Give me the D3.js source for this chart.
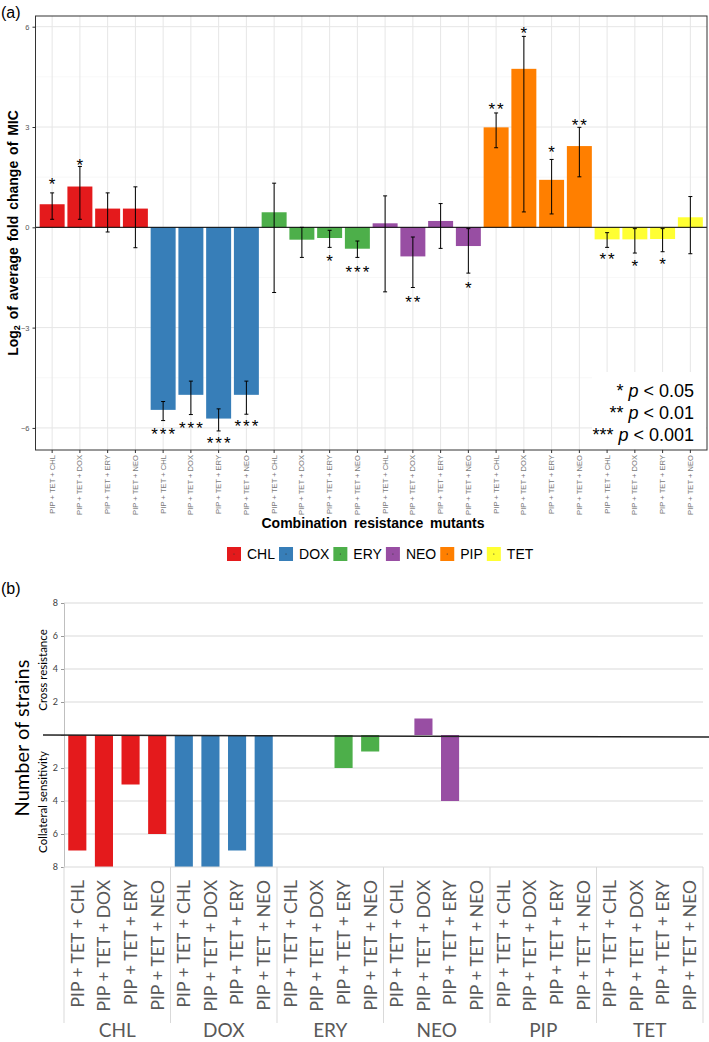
<!DOCTYPE html>
<html>
<head>
<meta charset="utf-8">
<script src="https://cdn.jsdelivr.net/npm/d3@7"></script>
<style>
  body { margin: 0; background: #fff; }
  svg { display: block; }
</style>
</head>
<body>
<script>
// Antibiotic groups and the four combination mutants per group
var groups = ["CHL", "DOX", "ERY", "NEO", "PIP", "TET"];
var combos = ["PIP + TET + CHL", "PIP + TET + DOX", "PIP + TET + ERY", "PIP + TET + NEO"];
var groupColors = ["#E41A1C", "#377EB8", "#4DAF4A", "#984EA3", "#FF7F00", "#FFFF33"];

// (a) log2 of average fold change of MIC, with error bar ends
var foldMean = [0.69, 1.22, 0.56, 0.56, -5.46, -5.01, -5.72, -5.01, 0.45, -0.37, -0.32, -0.64,
                0.12, -0.87, 0.19, -0.56, 2.99, 4.74, 1.42, 2.43, -0.36, -0.36, -0.35, 0.30];
var foldLow = [0.24, 0.24, -0.14, -0.61, -5.78, -5.60, -6.09, -5.59, -1.95, -0.90, -0.60, -0.90,
               -1.93, -1.80, -0.63, -1.37, 2.38, 0.46, 0.40, 1.51, -0.60, -0.77, -0.73, -0.79];
var foldHigh = [1.03, 1.82, 1.03, 1.21, -5.21, -4.60, -5.43, -4.60, 1.32, 0.00, -0.09, -0.41,
                0.94, -0.29, 0.71, -0.04, 3.42, 5.71, 2.03, 2.99, -0.16, -0.04, -0.04, 0.92];
var signif = ["*", "*", "", "", "***", "***", "***", "***", "", "", "*", "***",
              "", "**", "", "*", "**", "*", "*", "**", "**", "*", "*", ""];
var signifY = [1.41, 1.98, null, null, -6.06, -5.88, -6.34, -5.81, null, null, -0.88, -1.23,
               null, -2.12, null, -1.70, 3.66, 5.92, 2.38, 3.19, -0.83, -1.05, -0.98, null];
var yTicksTop = [-6, -3, 0, 3, 6];
var yMinorTop = [-4.5, -1.5, 1.5, 4.5];

// (b) number of strains: positive = cross resistance, negative = collateral sensitivity
var strainCounts = [-7, -8, -3, -6, -8, -8, -7, -8, 0, 0, -2, -1,
                    0, 1, -4, 0, 0, 0, 0, 0, 0, 0, 0, 0];
var yTicksBottom = [-8, -6, -4, -2, 0, 2, 4, 6, 8];

var rows = d3.range(24).map(function (i) {
  return {
    id: i,
    group: groups[Math.floor(i / 4)],
    color: groupColors[Math.floor(i / 4)],
    combo: combos[i % 4],
    mean: foldMean[i], low: foldLow[i], high: foldHigh[i],
    sig: signif[i], sigY: signifY[i],
    count: strainCounts[i]
  };
});

var svgWidth = 709;
var svgHeight = 1042;
var ggFont = "'Liberation Sans', Arial, Helvetica, sans-serif";
var xlFont = "Lato, 'Open Sans', sans-serif";

var svg = d3.select("body").append("svg")
  .attr("width", svgWidth)
  .attr("height", svgHeight)
  .style("background", "#fff");

// ---------------- panel (a) ----------------
var topPanel = { left: 35.5, right: 707, top: 16, bottom: 450 };

var xTop = d3.scaleBand()
  .domain(rows.map(d => d.id))
  .range([topPanel.left, topPanel.right])
  .paddingInner(0.1)
  .paddingOuter(0.15);

var yTop = d3.scaleLinear()
  .domain([-6.66, 6.32])
  .range([topPanel.bottom, topPanel.top]);

svg.append("text")
  .attr("x", 1).attr("y", 18)
  .style("font-family", ggFont).style("font-size", "16px")
  .text("(a)");

var gA = svg.append("g");

// grid
gA.selectAll(".minor").data(yMinorTop).enter().append("line")
  .attr("x1", topPanel.left).attr("x2", topPanel.right)
  .attr("y1", d => yTop(d)).attr("y2", d => yTop(d))
  .attr("stroke", "#f2f2f2").attr("stroke-width", 0.6);
gA.selectAll(".major").data(yTicksTop).enter().append("line")
  .attr("x1", topPanel.left).attr("x2", topPanel.right)
  .attr("y1", d => yTop(d)).attr("y2", d => yTop(d))
  .attr("stroke", "#e6e6e6").attr("stroke-width", 1);
gA.selectAll(".vgrid").data(rows).enter().append("line")
  .attr("x1", d => xTop(d.id) + xTop.bandwidth() / 2)
  .attr("x2", d => xTop(d.id) + xTop.bandwidth() / 2)
  .attr("y1", topPanel.top).attr("y2", topPanel.bottom)
  .attr("stroke", "#e6e6e6").attr("stroke-width", 1);

// bars
gA.selectAll(".bar").data(rows).enter().append("rect")
  .attr("x", d => xTop(d.id))
  .attr("width", xTop.bandwidth())
  .attr("y", d => yTop(Math.max(0, d.mean)))
  .attr("height", d => Math.abs(yTop(d.mean) - yTop(0)))
  .attr("fill", d => d.color);

// zero line
gA.append("line")
  .attr("x1", topPanel.left).attr("x2", topPanel.right)
  .attr("y1", yTop(0)).attr("y2", yTop(0))
  .attr("stroke", "#000").attr("stroke-width", 1);

// error bars
var eb = gA.selectAll(".err").data(rows).enter().append("g")
  .attr("transform", d => `translate(${xTop(d.id) + xTop.bandwidth() / 2},0)`);
eb.append("line").attr("y1", d => yTop(d.low)).attr("y2", d => yTop(d.high))
  .attr("stroke", "#000").attr("stroke-width", 1);
eb.append("line").attr("x1", -2).attr("x2", 2)
  .attr("y1", d => yTop(d.low)).attr("y2", d => yTop(d.low))
  .attr("stroke", "#000").attr("stroke-width", 1);
eb.append("line").attr("x1", -2).attr("x2", 2)
  .attr("y1", d => yTop(d.high)).attr("y2", d => yTop(d.high))
  .attr("stroke", "#000").attr("stroke-width", 1);

// significance stars
gA.selectAll(".sig").data(rows.filter(d => d.sig)).enter().append("text")
  .attr("x", d => xTop(d.id) + xTop.bandwidth() / 2 + 1)
  .attr("y", d => yTop(d.sigY) + 10)
  .attr("text-anchor", "middle")
  .style("font-family", ggFont).style("font-size", "17px")
  .style("letter-spacing", "2px")
  .text(d => d.sig);

// p-value key
var keyG = gA.append("g");
keyG.append("rect")
  .attr("x", 592).attr("y", 372).attr("width", 114).attr("height", 77)
  .attr("fill", "#fff");
var keyLines = [["*", "< 0.05"], ["**", "< 0.01"], ["***", "< 0.001"]];
keyG.selectAll(".pk").data(keyLines).enter().append("text")
  .attr("x", 694)
  .attr("y", (d, i) => 397 + i * 22)
  .attr("text-anchor", "end")
  .style("font-family", ggFont).style("font-size", "18px")
  .each(function (d) {
    var t = d3.select(this);
    t.append("tspan").text(d[0] + " ");
    t.append("tspan").style("font-style", "italic").text("p");
    t.append("tspan").text(" " + d[1]);
  });

// panel border
gA.append("rect")
  .attr("x", topPanel.left).attr("y", topPanel.top)
  .attr("width", topPanel.right - topPanel.left)
  .attr("height", topPanel.bottom - topPanel.top)
  .attr("fill", "none").attr("stroke", "#333").attr("stroke-width", 1);

// y axis
var yAxisA = gA.append("g")
  .attr("transform", `translate(${topPanel.left},0)`)
  .call(d3.axisLeft(yTop).tickValues(yTicksTop).tickSize(3).tickPadding(3));
yAxisA.select(".domain").remove();
yAxisA.selectAll("line").attr("stroke", "#333");
yAxisA.selectAll("text").style("font-family", ggFont).style("font-size", "7.5px").attr("fill", "#555");

// x axis
var xAxisA = gA.append("g")
  .attr("transform", `translate(0,${topPanel.bottom})`)
  .call(d3.axisBottom(xTop).tickSize(3).tickFormat(i => rows[i].combo));
xAxisA.select(".domain").remove();
xAxisA.selectAll("line").attr("stroke", "#333");
xAxisA.selectAll("text")
  .attr("transform", "rotate(-90)")
  .attr("x", -5).attr("y", 0).attr("dy", "0.32em")
  .attr("text-anchor", "end")
  .style("font-family", ggFont).style("font-size", "7.6px").attr("fill", "#777");

// titles
var yTitleA = svg.append("text")
  .attr("transform", `translate(18,${(topPanel.top + topPanel.bottom) / 2}) rotate(-90)`)
  .attr("text-anchor", "middle")
  .style("font-family", ggFont).style("font-size", "14px").style("font-weight", "bold")
  .style("word-spacing", "2px");
yTitleA.append("tspan").text("Log");
yTitleA.append("tspan").attr("baseline-shift", "-25%").style("font-size", "9px").text("2");
yTitleA.append("tspan").text(" of average fold change of MIC");

svg.append("text")
  .attr("x", 373).attr("y", 528)
  .attr("text-anchor", "middle")
  .style("font-family", ggFont).style("font-size", "14px").style("font-weight", "bold")
  .style("word-spacing", "3px")
  .text("Combination resistance mutants");

// legend
var legend = svg.append("g").attr("transform", "translate(227,547)");
var lx = 0;
groups.forEach(function (g, i) {
  var item = legend.append("g").attr("transform", `translate(${lx},0)`);
  item.append("rect").attr("width", 14).attr("height", 14)
    .attr("fill", groupColors[i]);
  item.append("circle").attr("cx", 7).attr("cy", 7).attr("r", 0.6).attr("fill", "#333");
  var t = item.append("text").attr("x", 20).attr("y", 12)
    .style("font-family", ggFont).style("font-size", "14px").text(g);
  lx += 20 + t.node().getComputedTextLength() + 4;
});

// ---------------- panel (b) ----------------
var botPanel = { left: 64, right: 703, top: 603, bottom: 867 };

var xBot = d3.scaleBand()
  .domain(rows.map(d => d.id))
  .range([botPanel.left, botPanel.right])
  .paddingInner(0.32)
  .paddingOuter(0.16);

var yBot = d3.scaleLinear()
  .domain([-8, 8])
  .range([botPanel.bottom, botPanel.top]);

svg.append("text")
  .attr("x", 1).attr("y", 594)
  .style("font-family", ggFont).style("font-size", "16px")
  .text("(b)");

var gB = svg.append("g");

gB.selectAll(".hgrid").data(yTicksBottom.filter(d => d !== 0 && d !== -8)).enter().append("line")
  .attr("x1", botPanel.left).attr("x2", botPanel.right)
  .attr("y1", d => yBot(d)).attr("y2", d => yBot(d))
  .attr("stroke", "#d9d9d9").attr("stroke-width", 1);

gB.selectAll(".bar").data(rows.filter(d => d.count !== 0)).enter().append("rect")
  .attr("x", d => xBot(d.id))
  .attr("width", xBot.bandwidth())
  .attr("y", d => yBot(Math.max(0, d.count)))
  .attr("height", d => Math.abs(yBot(d.count) - yBot(0)))
  .attr("fill", d => d.color);

// y axis (absolute counts on both sides)
var yAxisB = gB.append("g")
  .attr("transform", `translate(${botPanel.left},0)`)
  .call(d3.axisLeft(yBot).tickValues(yTicksBottom).tickSize(3).tickPadding(3)
    .tickFormat(d => d === 0 ? "" : Math.abs(d)));
yAxisB.select(".domain").attr("stroke", "#bfbfbf");
yAxisB.selectAll("line").attr("stroke", "#999");
yAxisB.selectAll("text").style("font-family", xlFont).style("font-size", "9px").attr("fill", "#404040");

// x axis line and group separators
gB.append("line")
  .attr("x1", botPanel.left).attr("x2", botPanel.right)
  .attr("y1", botPanel.bottom).attr("y2", botPanel.bottom)
  .attr("stroke", "#d9d9d9");
var groupEdges = d3.range(7).map(i => i < 6 ? xBot(i * 4) - xBot.step() * 0.16 : botPanel.right);
gB.selectAll(".sep").data(groupEdges).enter().append("line")
  .attr("x1", d => d).attr("x2", d => d)
  .attr("y1", botPanel.bottom).attr("y2", 1023)
  .attr("stroke", "#d9d9d9");

// zero line
gB.append("line")
  .attr("x1", 43).attr("x2", 709)
  .attr("y1", yBot(0)).attr("y2", yBot(0) + 2)
  .attr("stroke", "#222").attr("stroke-width", 1.5);

// category labels
gB.selectAll(".clab").data(rows).enter().append("text")
  .attr("transform", d => `translate(${xBot(d.id) + xBot.bandwidth() / 2},880) rotate(-90)`)
  .attr("dy", "0.36em")
  .attr("text-anchor", "end")
  .style("font-family", xlFont).style("font-size", "17.5px").attr("fill", "#595959")
  .text(d => d.combo);

gB.selectAll(".glab").data(groups).enter().append("text")
  .attr("x", (d, i) => (groupEdges[i] + groupEdges[i + 1]) / 2)
  .attr("y", 1037)
  .attr("text-anchor", "middle")
  .style("font-family", xlFont).style("font-size", "19px").attr("fill", "#595959")
  .text(d => d);

// y titles
svg.append("text")
  .attr("transform", "translate(29,738) rotate(-90)")
  .attr("text-anchor", "middle")
  .style("font-family", xlFont).style("font-size", "20px").attr("fill", "#000")
  .text("Number of strains");
svg.append("text")
  .attr("transform", "translate(47,670) rotate(-90)")
  .attr("text-anchor", "middle")
  .style("font-family", xlFont).style("font-size", "11.5px").attr("fill", "#000")
  .text("Cross resistance");
svg.append("text")
  .attr("transform", "translate(47,802) rotate(-90)")
  .attr("text-anchor", "middle")
  .style("font-family", xlFont).style("font-size", "11.5px").attr("fill", "#000")
  .text("Collateral sensitivity");
</script>
</body>
</html>
